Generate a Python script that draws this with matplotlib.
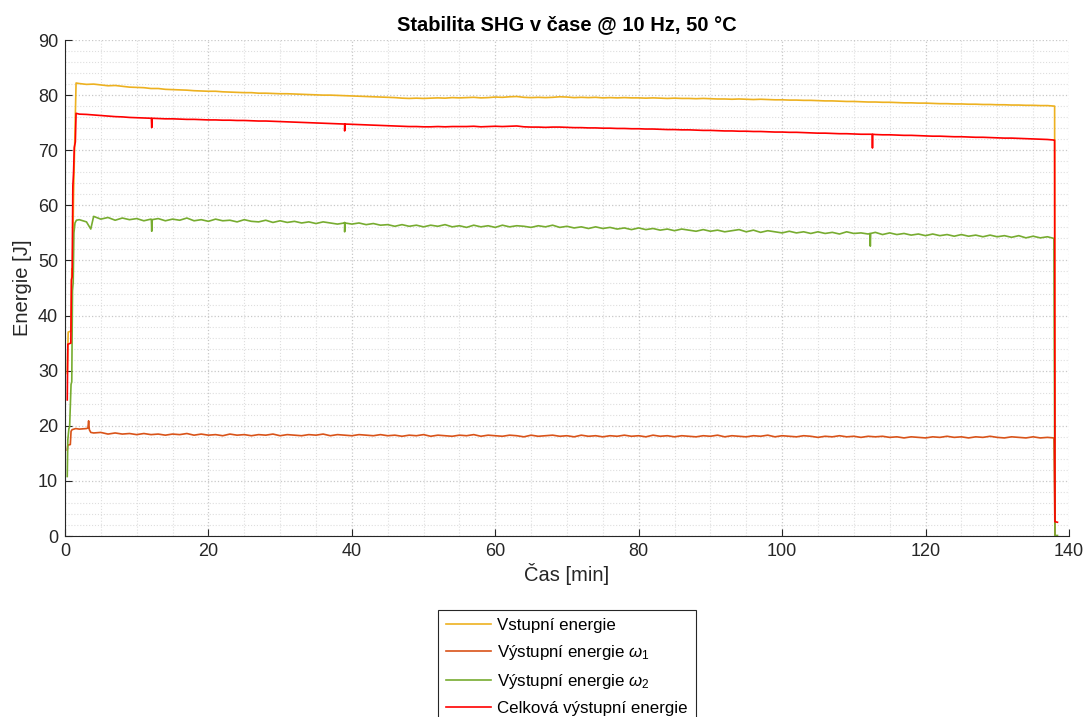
import numpy as np
import matplotlib
matplotlib.use("Agg")
import matplotlib.pyplot as plt
from matplotlib.ticker import MultipleLocator

plt.rcParams['font.family'] = ['Liberation Sans', 'DejaVu Sans']
plt.rcParams['mathtext.fontset'] = 'custom'
plt.rcParams['mathtext.rm'] = 'Liberation Sans'
plt.rcParams['mathtext.it'] = 'Liberation Sans:italic'

# ---------------- data ----------------
title = "Stabilita SHG v čase @ 10 Hz, 50 °C"
xlabel = "Čas [min]"
ylabel = "Energie [J]"
labels = ["Vstupní energie", r"Výstupní energie $\omega_1$",
          r"Výstupní energie $\omega_2$", "Celková výstupní energie"]
x_ticks = [0, 20, 40, 60, 80, 100, 120, 140]
y_ticks = [0, 10, 20, 30, 40, 50, 60, 70, 80, 90]

# shared sampling of the steady part (minutes 2..137, plus 137.9)
t_main = list(range(2, 138)) + [137.9]

# --- Vstupní energie ---
yel_start_t = [0.32, 0.45, 0.84, 0.95, 1.05, 1.2, 1.4, 1.55]
yel_start_v = [29.5, 37.0, 37.2, 48.5, 48.0, 62.0, 74.0, 82.2]
yel_main = [82.1, 81.95, 82.0, 81.85, 81.7, 81.75, 81.6, 81.45, 81.4, 81.35,
            81.2, 81.2, 81.05, 81.0, 80.95, 80.9, 80.8, 80.75, 80.7, 80.7,
            80.6, 80.55, 80.5, 80.45, 80.45, 80.35, 80.35, 80.3, 80.25, 80.25,
            80.2, 80.15, 80.1, 80.05, 80.0, 80.0, 79.95, 79.9, 79.85, 79.8,
            79.75, 79.7, 79.65, 79.6, 79.55, 79.45, 79.4, 79.45, 79.4, 79.45,
            79.5, 79.45, 79.55, 79.5, 79.55, 79.6, 79.5, 79.55, 79.65, 79.6,
            79.7, 79.75, 79.6, 79.55, 79.6, 79.55, 79.6, 79.7, 79.65, 79.55,
            79.6, 79.55, 79.6, 79.5, 79.55, 79.5, 79.55, 79.5, 79.5, 79.45,
            79.5, 79.45, 79.4, 79.45, 79.4, 79.4, 79.35, 79.4, 79.35, 79.3,
            79.3, 79.25, 79.3, 79.25, 79.2, 79.25, 79.2, 79.15, 79.15, 79.1,
            79.1, 79.05, 79.05, 79.0, 78.95, 78.95, 78.9, 78.85, 78.85, 78.8,
            78.75, 78.75, 78.7, 78.7, 78.65, 78.6, 78.6, 78.55, 78.55, 78.5,
            78.45, 78.45, 78.4, 78.4, 78.35, 78.35, 78.3, 78.3, 78.25, 78.25,
            78.2, 78.2, 78.15, 78.15, 78.1, 78.1, 78.0]
yel_spike_t, yel_spike_v = [], []
yel_end_t = [138.0, 138.05]
yel_end_v = [78.0, 2.7]

# --- Výstupní energie w1 ---
ora_start_t = [0.32, 0.4, 0.75, 0.85, 1.0, 1.5]
ora_start_v = [15.6, 16.5, 16.6, 19.0, 19.3, 19.5]
ora_main = [19.4, 19.5, 18.7, 18.8, 18.5, 18.7, 18.5, 18.6, 18.4, 18.6,
            18.4, 18.5, 18.3, 18.5, 18.4, 18.6, 18.3, 18.5, 18.3, 18.4,
            18.2, 18.5, 18.3, 18.4, 18.2, 18.4, 18.3, 18.5, 18.2, 18.4,
            18.3, 18.2, 18.4, 18.3, 18.5, 18.2, 18.4, 18.3, 18.2, 18.4,
            18.3, 18.2, 18.4, 18.2, 18.3, 18.1, 18.3, 18.2, 18.4, 18.1,
            18.3, 18.2, 18.1, 18.3, 18.2, 18.4, 18.1, 18.3, 18.2, 18.1,
            18.3, 18.2, 18.0, 18.3, 18.1, 18.2, 18.3, 18.1, 18.2, 18.0,
            18.3, 18.1, 18.2, 18.0, 18.2, 18.1, 18.3, 18.1, 18.2, 18.0,
            18.3, 18.1, 18.2, 18.0, 18.2, 18.1, 18.0, 18.2, 18.1, 18.3,
            18.0, 18.2, 18.1, 18.0, 18.2, 18.1, 18.3, 18.0, 18.2, 18.1,
            18.0, 18.2, 18.1, 17.9, 18.1, 18.0, 18.2, 18.0, 18.1, 17.9,
            18.1, 18.0, 18.1, 17.9, 18.0, 17.8, 18.0, 17.9, 17.8, 18.0,
            17.9, 18.1, 17.9, 18.0, 17.8, 18.0, 17.9, 18.1, 17.9, 17.8,
            18.0, 17.9, 17.8, 18.0, 17.8, 17.9, 17.8]
ora_spike_t = [3.2, 3.3, 3.4, 3.6]
ora_spike_v = [19.6, 20.9, 19.3, 18.8]
ora_end_t = [138.05]
ora_end_v = [0.2]

# --- Výstupní energie w2 ---
grn_start_t = [0.32, 0.4, 0.55, 0.65, 0.85, 0.95, 1.05, 1.15, 1.25, 1.4, 1.6]
grn_start_v = [10.8, 17.5, 19.5, 19.8, 27.5, 28.0, 44.5, 46.0, 55.0, 56.8, 57.3]
grn_main = [57.4, 57.0, 58.0, 57.5, 57.8, 57.3, 57.7, 57.4, 57.6, 57.2,
            57.5, 57.6, 57.2, 57.5, 57.3, 57.7, 57.2, 57.4, 57.1, 57.5,
            57.2, 57.3, 57.0, 57.4, 57.1, 57.0, 57.3, 56.9, 57.2, 56.9,
            57.1, 56.8, 57.0, 56.7, 57.0, 56.8, 56.6, 56.9, 56.6, 56.8,
            56.5, 56.7, 56.4, 56.5, 56.2, 56.5, 56.2, 56.4, 56.1, 56.4,
            56.2, 56.5, 56.1, 56.3, 56.0, 56.4, 56.1, 56.3, 56.0, 56.4,
            56.1, 56.3, 56.2, 56.0, 56.3, 56.1, 56.4, 56.0, 56.2, 55.9,
            56.1, 55.8, 56.1, 55.8, 56.0, 55.7, 55.9, 55.6, 55.9, 55.6,
            55.8, 55.5, 55.7, 55.4, 55.7, 55.5, 55.3, 55.6, 55.3, 55.5,
            55.2, 55.4, 55.6, 55.2, 55.5, 55.1, 55.4, 55.2, 55.0, 55.3,
            55.0, 55.2, 54.9, 55.2, 54.9, 55.1, 54.8, 55.2, 54.9, 55.0,
            54.8, 55.1, 54.7, 55.0, 54.7, 54.9, 54.6, 54.8, 54.5, 54.8,
            54.5, 54.7, 54.4, 54.7, 54.4, 54.6, 54.3, 54.6, 54.3, 54.5,
            54.2, 54.5, 54.1, 54.4, 54.1, 54.3, 54.0]
grn_spike_t = [3.6, 12.05, 12.1, 12.15, 38.95, 39.0, 39.05, 112.25, 112.3, 112.35]
grn_spike_v = [55.7, 57.4, 55.3, 57.4, 56.8, 55.2, 56.8, 54.9, 52.6, 54.9]
grn_end_t = [138.05, 138.4]
grn_end_v = [0.1, 0.1]

# --- Celková výstupní energie ---
red_start_t = [0.32, 0.4, 0.82, 0.9, 1.0, 1.1, 1.2, 1.3, 1.45, 1.55]
red_start_v = [24.7, 34.8, 35.0, 46.5, 47.0, 63.5, 66.0, 70.5, 71.5, 76.7]
red_main = [76.55, 76.5, 76.4, 76.3, 76.2, 76.1, 76.05, 75.95, 75.9, 75.85,
            75.8, 75.75, 75.7, 75.7, 75.65, 75.6, 75.6, 75.55, 75.5, 75.5,
            75.45, 75.45, 75.4, 75.4, 75.35, 75.3, 75.3, 75.25, 75.2, 75.15,
            75.1, 75.05, 75.0, 74.95, 74.9, 74.85, 74.8, 74.75, 74.7, 74.65,
            74.6, 74.55, 74.5, 74.45, 74.4, 74.35, 74.3, 74.3, 74.25, 74.25,
            74.3, 74.25, 74.3, 74.3, 74.3, 74.35, 74.25, 74.3, 74.35, 74.3,
            74.35, 74.4, 74.25, 74.2, 74.2, 74.15, 74.2, 74.2, 74.15, 74.1,
            74.1, 74.05, 74.05, 74.0, 74.0, 73.95, 73.95, 73.9, 73.9, 73.85,
            73.85, 73.8, 73.75, 73.75, 73.7, 73.7, 73.65, 73.6, 73.6, 73.55,
            73.5, 73.5, 73.45, 73.45, 73.4, 73.4, 73.35, 73.3, 73.3, 73.25,
            73.25, 73.2, 73.15, 73.1, 73.1, 73.05, 73.0, 73.0, 72.95, 72.9,
            72.9, 72.85, 72.8, 72.8, 72.75, 72.7, 72.7, 72.65, 72.6, 72.55,
            72.55, 72.5, 72.45, 72.45, 72.4, 72.35, 72.35, 72.3, 72.25, 72.2,
            72.2, 72.15, 72.1, 72.05, 72.0, 71.95, 71.85]
red_spike_t = [12.05, 12.1, 12.15, 38.95, 39.0, 39.05, 112.55, 112.6, 112.65]
red_spike_v = [75.8, 74.1, 75.8, 74.75, 73.5, 74.75, 72.9, 70.4, 72.9]
red_end_t = [138.0, 138.05, 138.4]
red_end_v = [71.8, 2.6, 2.5]

colors = ['#EDB120', '#D95319', '#77AC30', '#FF0000']


def assemble(st, sv, mv, kt, kv, et, ev):
    t = np.array(list(st) + list(t_main) + list(kt) + list(et), dtype=float)
    v = np.array(list(sv) + list(mv) + list(kv) + list(ev), dtype=float)
    order = np.argsort(t, kind='stable')
    return t[order], v[order]


series = [
    assemble(yel_start_t, yel_start_v, yel_main, yel_spike_t, yel_spike_v, yel_end_t, yel_end_v),
    assemble(ora_start_t, ora_start_v, ora_main, ora_spike_t, ora_spike_v, ora_end_t, ora_end_v),
    assemble(grn_start_t, grn_start_v, grn_main, grn_spike_t, grn_spike_v, grn_end_t, grn_end_v),
    assemble(red_start_t, red_start_v, red_main, red_spike_t, red_spike_v, red_end_t, red_end_v),
]

# ---------------- figure ----------------
fig = plt.figure(figsize=(10.88, 7.17), dpi=100)
ax = fig.add_axes([0.0597, 0.2524, 0.9228, 0.6918])

txt = '#262626'
for (t, v), c, lab in zip(series, colors, labels):
    ax.plot(t, v, color=c, lw=1.2, label=lab)

ax.set_xlim(0, 140)
ax.set_ylim(0, 90)
ax.set_xticks(x_ticks)
ax.set_yticks(y_ticks)
ax.xaxis.set_minor_locator(MultipleLocator(5))
ax.yaxis.set_minor_locator(MultipleLocator(2))
ax.tick_params(which='major', direction='in', length=5, width=0.8,
               colors=txt, labelsize=13, pad=5)
ax.tick_params(which='minor', length=0)
ax.grid(which='major', linestyle=':', color='#c8c8c8', lw=0.9)
ax.grid(which='minor', linestyle=':', color='#dedede', lw=0.8)
ax.set_axisbelow(True)
for s in ['top', 'right']:
    ax.spines[s].set_visible(False)
for s in ['left', 'bottom']:
    ax.spines[s].set_color(txt)
    ax.spines[s].set_linewidth(0.8)

ax.set_title(title, fontsize=14.5, fontweight='bold', color='black', pad=7)
ax.set_xlabel(xlabel, fontsize=14.5, color=txt, labelpad=2)
ax.set_ylabel(ylabel, fontsize=14.5, color=txt, labelpad=4)

leg = fig.legend(loc='upper left', bbox_to_anchor=(0.4026, 0.1492),
                 bbox_transform=fig.transFigure, borderaxespad=0,
                 fontsize=12.2, frameon=True, fancybox=False, framealpha=1,
                 edgecolor=txt, handlelength=2.7, handletextpad=0.35,
                 labelspacing=0.6, borderpad=0.45)
leg.get_frame().set_linewidth(0.8)
for tx in leg.get_texts():
    tx.set_color('black')

fig.savefig('out.png', dpi=100)
